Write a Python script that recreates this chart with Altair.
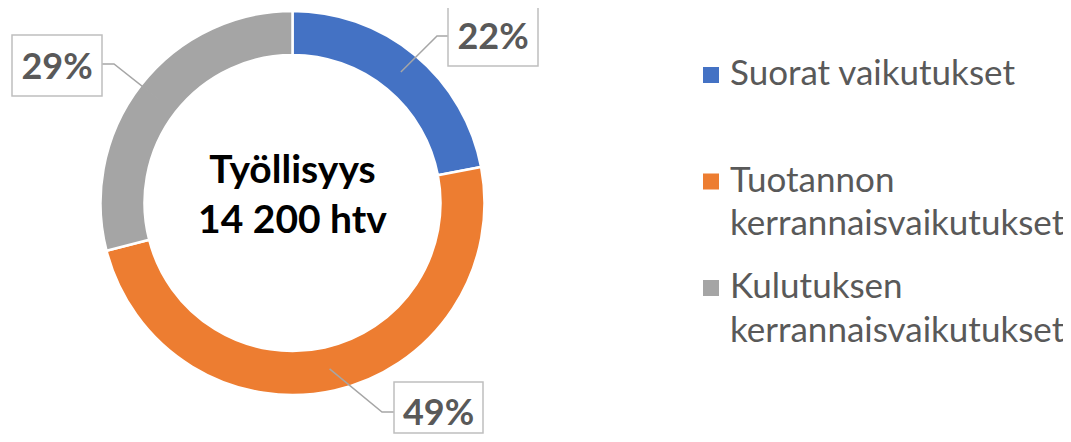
import math
import altair as alt
import pandas as pd

# ---------------- data ----------------
categories = ["Suorat vaikutukset", "Tuotannon kerrannaisvaikutukset", "Kulutuksen kerrannaisvaikutukset"]
legend_lines = [["Suorat vaikutukset"], ["Tuotannon", "kerrannaisvaikutukset"], ["Kulutuksen", "kerrannaisvaikutukset"]]
shares = [22, 49, 29]
center_lines = ["Työllisyys", "14 200 htv"]

# ---------------- style / layout ----------------
colors = ["#4472C4", "#ED7D31", "#A5A5A5"]
W, H = 1055, 426
CX, CY = 292.5, 203
R_OUT, R_IN, R_MID = 192, 148, 170
FONT = "Lato"
TXT = "#595959"
# label boxes: (x0, x1, y0, y1), elbow point, attach point
boxes = [
    ((448, 538, 6, 66), (437, 36), (448, 36)),
    ((394, 483, 382, 433), (382, 412), (394, 412)),
    ((12, 102, 35, 96), (114, 64), (102, 64)),
]

xs = alt.Scale(domain=[8, 8 + W], nice=False, zero=False)
ys = alt.Scale(domain=[8, 8 + H], nice=False, zero=False, reverse=True)

# ring
ring_df = pd.DataFrame({"cat": categories, "share": shares, "idx": list(range(len(shares)))})
ring = alt.Chart(ring_df).mark_arc(radius=R_OUT, radius2=R_IN, stroke="white", strokeWidth=2.5).encode(
    theta=alt.Theta("share:Q", stack=True),
    color=alt.Color("cat:N", scale=alt.Scale(domain=categories, range=colors), legend=None),
    order=alt.Order("idx:Q"),
    x=alt.value(CX - 8),
    y=alt.value(CY - 8),
)

# leader lines, label boxes, labels
lead_rows, box_rows, lab_rows = [], [], []
total = sum(shares)
cum = 0
for i, s in enumerate(shares):
    a = (cum + s / 2) / total * 2 * math.pi
    cum += s
    px = CX + R_MID * math.sin(a)
    py = CY - R_MID * math.cos(a)
    (x0, x1, y0, y1), el, at = boxes[i]
    for j, (qx, qy) in enumerate([(px, py), el, at]):
        lead_rows.append({"k": i, "j": j, "x": qx, "y": qy})
    box_rows.append({"x": x0, "x2": x1, "y": y0, "y2": y1})
    lab_rows.append({"x": (x0 + x1) / 2, "y": (y0 + y1) / 2 + 13 if i != 1 else 411.5 + 13, "t": f"{s}%"})

lead = alt.Chart(pd.DataFrame(lead_rows)).mark_line(color="#A6A6A6", strokeWidth=1.5).encode(
    x=alt.X("x:Q", scale=xs, axis=None),
    y=alt.Y("y:Q", scale=ys, axis=None),
    detail="k:N",
    order="j:Q",
)
box = alt.Chart(pd.DataFrame(box_rows)).mark_rect(fill="white", stroke="#BFBFBF", strokeWidth=1.5).encode(
    x=alt.X("x:Q", scale=xs, axis=None), x2="x2:Q",
    y=alt.Y("y:Q", scale=ys, axis=None), y2="y2:Q",
)
labels = alt.Chart(pd.DataFrame(lab_rows)).mark_text(
    font=FONT, fontSize=36, fontWeight="bold", color=TXT, align="center", baseline="alphabetic"
).encode(
    x=alt.X("x:Q", scale=xs, axis=None),
    y=alt.Y("y:Q", scale=ys, axis=None),
    text="t:N",
)

# center text
center_df = pd.DataFrame({"t": center_lines, "x": [CX, CX], "y": [183, 233]})
center = alt.Chart(center_df).mark_text(
    font=FONT, fontSize=39, fontWeight="bold", color="black", align="center", baseline="alphabetic"
).encode(
    x=alt.X("x:Q", scale=xs, axis=None),
    y=alt.Y("y:Q", scale=ys, axis=None),
    text="t:N",
)

# legend
sym_rows, leg_rows = [], []
for i, (cat, lines) in enumerate(zip(categories, legend_lines)):
    base = 85 + i * 106.5
    sym_rows.append({"cat": cat, "x": 711, "y": base - 10})
    for j, ln in enumerate(lines):
        leg_rows.append({"t": ln, "x": 730, "y": base + j * 43.5})

sym = alt.Chart(pd.DataFrame(sym_rows)).mark_square(size=256, opacity=1).encode(
    x=alt.X("x:Q", scale=xs, axis=None),
    y=alt.Y("y:Q", scale=ys, axis=None),
    color=alt.Color("cat:N", scale=alt.Scale(domain=categories, range=colors), legend=None),
)
leg = alt.Chart(pd.DataFrame(leg_rows)).mark_text(
    font=FONT, fontSize=35, color=TXT, align="left", baseline="alphabetic"
).encode(
    x=alt.X("x:Q", scale=xs, axis=None),
    y=alt.Y("y:Q", scale=ys, axis=None),
    text="t:N",
)

chart = alt.layer(ring, lead, box, labels, center, sym, leg).properties(
    width=W, height=H, padding=0, autosize=alt.AutoSizeParams(type="none")
).configure_view(stroke=None)

chart.save("out.html", embed_options={"renderer": "svg", "actions": False})
